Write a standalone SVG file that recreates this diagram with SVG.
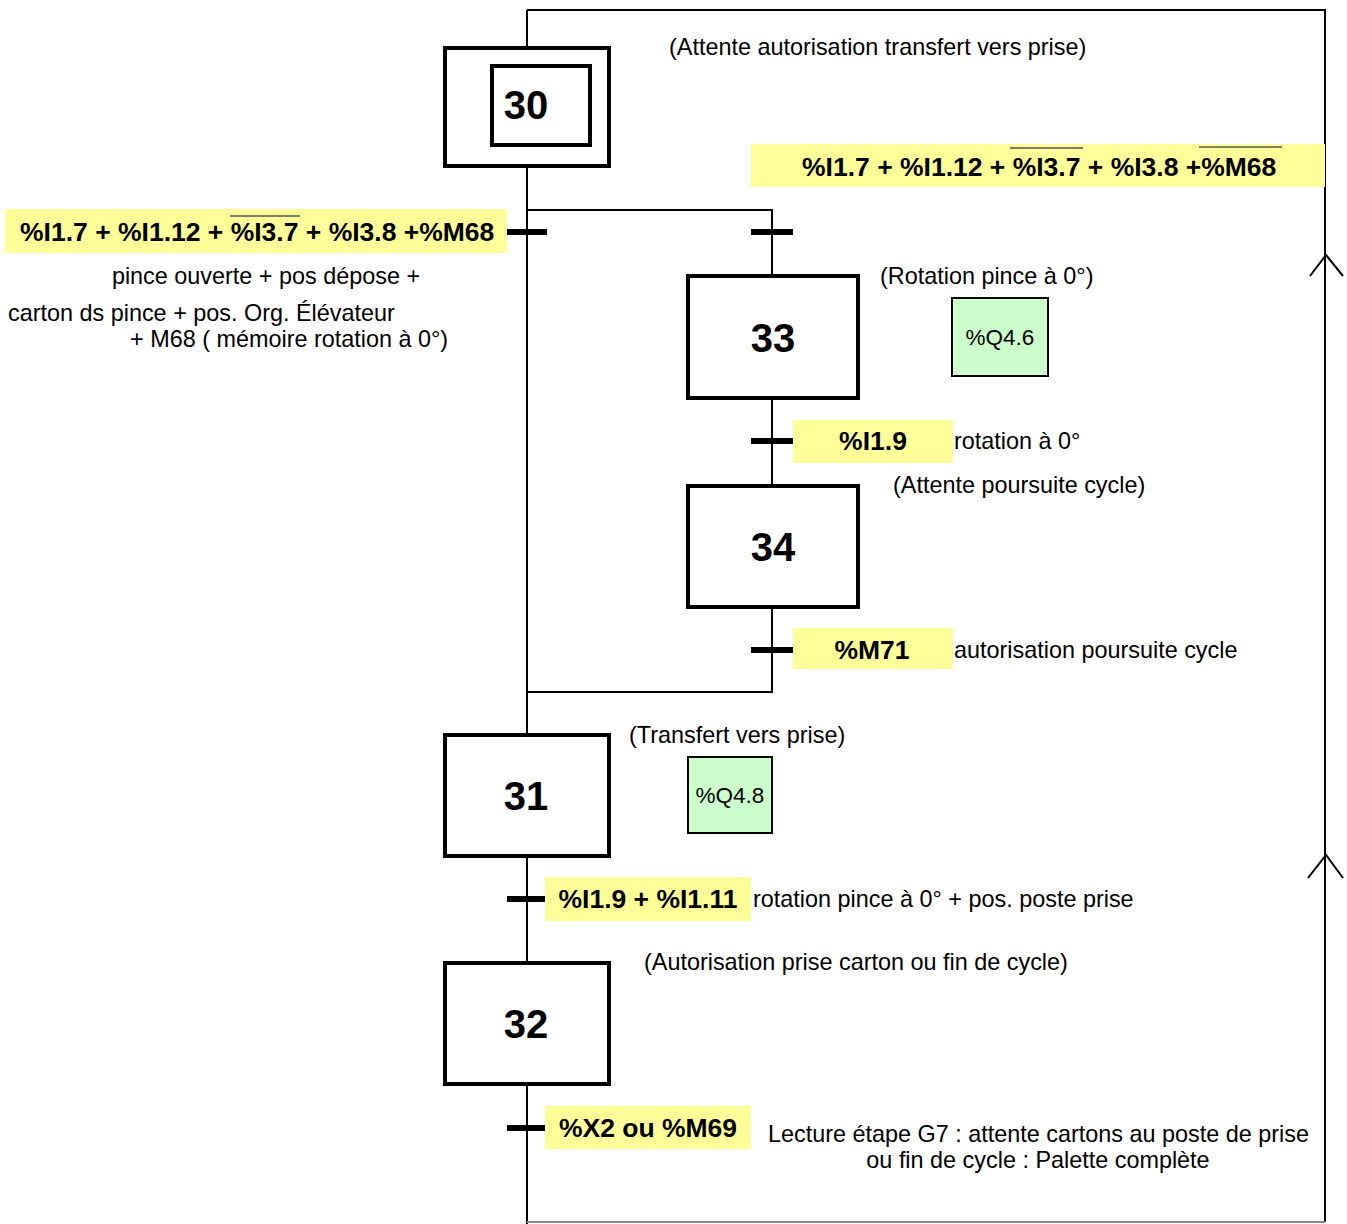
<svg xmlns="http://www.w3.org/2000/svg" width="1347" height="1224" viewBox="0 0 1347 1224">
<style>
.step{fill:#fff;stroke:#000;stroke-width:4}
.num{font-family:"Liberation Sans",Arial,sans-serif;font-weight:bold;font-size:40px;text-anchor:middle}
.lnk{fill:none;stroke:#000;stroke-width:2}
.bar{stroke:#000;stroke-width:6}
.cond{fill:#ffff99}
.ct{font-family:"Liberation Sans",Arial,sans-serif;font-weight:bold;font-size:26.5px}
.tx{font-family:"Liberation Sans",Arial,sans-serif;font-size:23.4px}
.act{fill:#ccffcc;stroke:#000;stroke-width:2}
.at{font-family:"Liberation Sans",Arial,sans-serif;font-size:22.5px;text-anchor:middle}
.ov{stroke:#555;stroke-width:1.5}
</style>
<rect width="1347" height="1224" fill="#fff"/>
<g id="connectors">
<path class="lnk" d="M527,10 V1224"/>
<path class="lnk" d="M527,10 H1325 V1222"/>
<path d="M527,1222 H1325" stroke="#888" stroke-width="2"/>
<path class="lnk" d="M527,210 H772 V275"/>
<path class="lnk" d="M772,398 V485"/>
<path class="lnk" d="M772,607 V692 H527"/>
<path class="lnk" d="M1310,276 L1326,255 L1343,276"/>
<path class="lnk" d="M1308,878 L1326,855 L1343,878"/>
<line class="bar" x1="507" y1="232" x2="547" y2="232"/>
<line class="bar" x1="751" y1="232" x2="793" y2="232"/>
<line class="bar" x1="751" y1="441" x2="793" y2="441"/>
<line class="bar" x1="751" y1="650" x2="793" y2="650"/>
<line class="bar" x1="507" y1="899" x2="547" y2="899"/>
<line class="bar" x1="507" y1="1128" x2="547" y2="1128"/>
</g>
<g id="step30">
<rect class="step" x="445" y="48" width="164" height="118"/>
<rect class="step" x="492" y="66" width="98" height="79"/>
<text class="num" x="526" y="119">30</text>
<text class="tx" x="669" y="55">(Attente autorisation transfert vers prise)</text>
</g>
<g id="cond-top">
<rect class="cond" x="751" y="144" width="574" height="43"/>
<text class="ct" x="802" y="176">%I1.7 + %I1.12 + %I3.7 + %I3.8 +%M68</text>
<line class="ov" x1="1010" y1="148" x2="1083" y2="148"/>
<line class="ov" x1="1199" y1="147" x2="1282" y2="147"/>
</g>
<g id="cond-left">
<rect class="cond" x="5" y="209" width="502" height="44"/>
<text class="ct" x="20" y="241">%I1.7 + %I1.12 + %I3.7 + %I3.8 +%M68</text>
<line class="ov" x1="230" y1="216" x2="300" y2="216"/>
<text class="tx" x="266" y="284" text-anchor="middle">pince ouverte + pos dépose +</text>
<text class="tx" x="8" y="321">carton ds pince + pos. Org. Élévateur</text>
<text class="tx" x="130" y="347">+ M68 ( mémoire rotation à 0°)</text>
</g>
<g id="step33">
<rect class="step" x="688" y="276" width="170" height="122"/>
<text class="num" x="773" y="352">33</text>
<text class="tx" x="880" y="284">(Rotation pince à 0°)</text>
<rect class="act" x="952" y="298" width="96" height="78"/>
<text class="at" x="1000" y="345">%Q4.6</text>
</g>
<g id="cond-33">
<rect class="cond" x="793" y="420" width="160" height="43"/>
<text class="ct" x="873" y="450" text-anchor="middle">%I1.9</text>
<text class="tx" x="954" y="449">rotation à 0°</text>
</g>
<g id="step34">
<rect class="step" x="688" y="486" width="170" height="121"/>
<text class="num" x="773" y="561">34</text>
<text class="tx" x="893" y="493">(Attente poursuite cycle)</text>
</g>
<g id="cond-34">
<rect class="cond" x="793" y="628" width="160" height="41"/>
<text class="ct" x="872" y="659" text-anchor="middle">%M71</text>
<text class="tx" x="954" y="658">autorisation poursuite cycle</text>
</g>
<g id="step31">
<rect class="step" x="445" y="735" width="164" height="121"/>
<text class="num" x="526" y="810">31</text>
<text class="tx" x="629" y="743">(Transfert vers prise)</text>
<rect class="act" x="688" y="757" width="84" height="76"/>
<text class="at" x="730" y="803">%Q4.8</text>
</g>
<g id="cond-31">
<rect class="cond" x="545" y="877" width="206" height="44"/>
<text class="ct" x="648" y="908" text-anchor="middle">%I1.9 + %I1.11</text>
<text class="tx" x="753" y="907">rotation pince à 0° + pos. poste prise</text>
</g>
<g id="step32">
<rect class="step" x="445" y="963" width="164" height="121"/>
<text class="num" x="526" y="1038">32</text>
<text class="tx" x="644" y="970">(Autorisation prise carton ou fin de cycle)</text>
</g>
<g id="cond-32">
<rect class="cond" x="545" y="1106" width="206" height="43"/>
<text class="ct" x="648" y="1137" text-anchor="middle">%X2 ou %M69</text>
<text class="tx" x="768" y="1142">Lecture étape G7 : attente cartons au poste de prise</text>
<text class="tx" x="1038" y="1168" text-anchor="middle">ou fin de cycle : Palette complète</text>
</g>
</svg>
